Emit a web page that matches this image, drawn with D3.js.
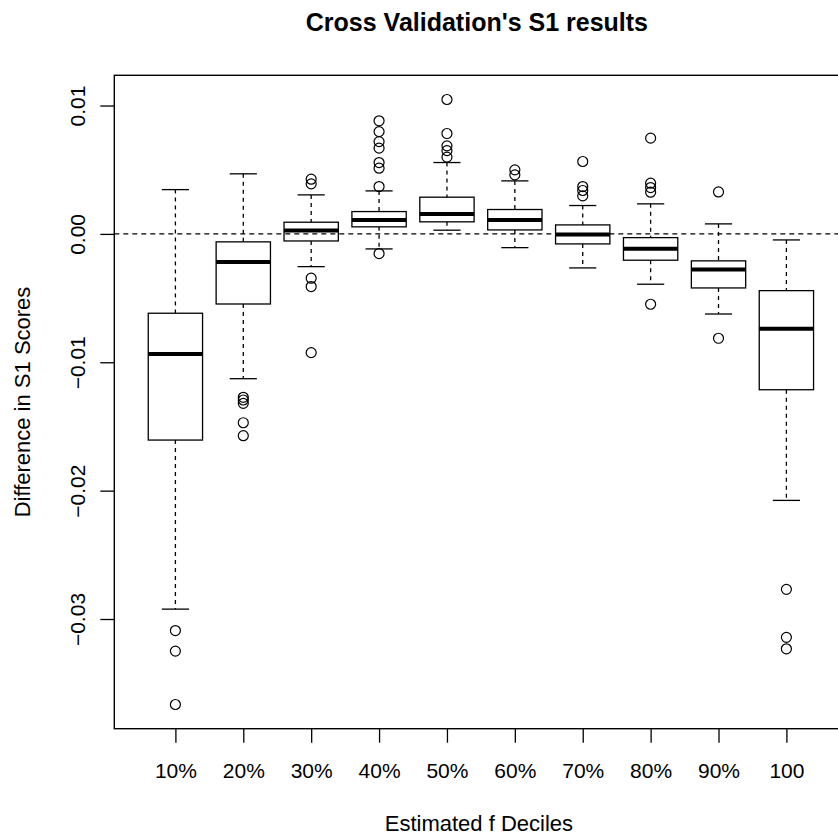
<!DOCTYPE html>
<html>
<head>
<meta charset="utf-8">
<script src="https://cdn.jsdelivr.net/npm/d3@7"></script>
<style>
  html, body { margin: 0; padding: 0; background: #fff; }
  svg text { font-family: 'Liberation Sans', Arial, sans-serif; fill: #000; }
</style>
</head>
<body>
<div id="chart"></div>
<script>
// deciles on the x axis
const categories = ['10%', '20%', '30%', '40%', '50%', '60%', '70%', '80%', '90%', '100']

// box statistics
const whiskerHigh = [0.00345, 0.00468, 0.00304, 0.00335, 0.00556, 0.00413, 0.00221, 0.00234, 0.00078, -0.00047]
const upperQuartile = [-0.00618, -0.00062, 0.00091, 0.00174, 0.00286, 0.0019, 0.0007, -0.00029, -0.0021, -0.00442]
const medians = [-0.00935, -0.00218, 0.00026, 0.00109, 0.00156, 0.00109, -0.00005, -0.00115, -0.00278, -0.00738]
const lowerQuartile = [-0.01606, -0.00546, -0.00055, 0.00055, 0.00094, 0.00031, -0.00078, -0.00205, -0.00421, -0.01214]
const whiskerLow = [-0.02923, -0.01128, -0.00255, -0.00117, 0.00029, -0.00107, -0.00265, -0.00392, -0.00624, -0.02076]
const outliers = [
  [-0.0309, -0.0325, -0.03666],
  [-0.01273, -0.01294, -0.0132, -0.01471, -0.01572],
  [0.00426, 0.0039, -0.00345, -0.0041, -0.00925],
  [0.00881, 0.00797, 0.00719, 0.00668, 0.00556, 0.00512, 0.00369, -0.00153],
  [0.01047, 0.00782, 0.00686, 0.00649, 0.00598],
  [0.00499, 0.0046],
  [0.00564, 0.00369, 0.00338, 0.00296],
  [0.00746, 0.00395, 0.00361, 0.00325, -0.00548],
  [0.00327, -0.00813],
  [-0.02769, -0.03143, -0.03232]
]

// y axis ticks and labels
const yTicks = [-0.03, -0.02, -0.01, 0, 0.01]
const yTickLabels = ['\u22120.03', '\u22120.02', '\u22120.01', '0.00', '0.01']

const width = 838
const height = 837
const plot = { left: 114.3, right: 847.5, top: 75.3, bottom: 728.7 }
const fontSize = 21

const svg = d3.select('#chart').append('svg')
  .attr('width', width)
  .attr('height', height)

// R style: box centres at 1..n, range extended by 4%
const xScale = d3.scaleLinear()
  .domain([0.1, categories.length + 0.9])
  .range([plot.left, plot.right])

const allValues = whiskerHigh.concat(whiskerLow, outliers.flat())
const yMin = d3.min(allValues)
const yMax = d3.max(allValues)
const pad = (yMax - yMin) * 0.04
const yScale = d3.scaleLinear()
  .domain([yMin - pad, yMax + pad])
  .range([plot.bottom, plot.top])

const step = xScale(2) - xScale(1)
const boxW = step * 0.8
const capW = step * 0.4

const boxes = categories.map((c, i) => ({
  i: i + 1,
  lo: whiskerLow[i],
  q1: lowerQuartile[i],
  med: medians[i],
  q3: upperQuartile[i],
  hi: whiskerHigh[i],
  out: outliers[i]
}))

const g = svg.append('g')
const box = g.selectAll('.box')
  .data(boxes)
  .enter()
  .append('g')
  .attr('class', 'box')

// whiskers (dashed)
box.append('line')
  .attr('x1', d => xScale(d.i)).attr('x2', d => xScale(d.i))
  .attr('y1', d => yScale(d.hi)).attr('y2', d => yScale(d.q3))
  .attr('stroke', '#000').attr('stroke-width', 1.3).attr('stroke-dasharray', '4,4')
box.append('line')
  .attr('x1', d => xScale(d.i)).attr('x2', d => xScale(d.i))
  .attr('y1', d => yScale(d.q1)).attr('y2', d => yScale(d.lo))
  .attr('stroke', '#000').attr('stroke-width', 1.3).attr('stroke-dasharray', '4,4')

// staples
box.selectAll('.cap')
  .data(d => [{ i: d.i, v: d.hi }, { i: d.i, v: d.lo }])
  .enter()
  .append('line')
  .attr('class', 'cap')
  .attr('x1', d => xScale(d.i) - capW / 2).attr('x2', d => xScale(d.i) + capW / 2)
  .attr('y1', d => yScale(d.v)).attr('y2', d => yScale(d.v))
  .attr('stroke', '#000').attr('stroke-width', 1.3)

// box body
box.append('rect')
  .attr('x', d => xScale(d.i) - boxW / 2)
  .attr('y', d => yScale(d.q3))
  .attr('width', boxW)
  .attr('height', d => yScale(d.q1) - yScale(d.q3))
  .attr('fill', '#fff')
  .attr('stroke', '#000')
  .attr('stroke-width', 1.3)

// median
box.append('line')
  .attr('x1', d => xScale(d.i) - boxW / 2).attr('x2', d => xScale(d.i) + boxW / 2)
  .attr('y1', d => yScale(d.med)).attr('y2', d => yScale(d.med))
  .attr('stroke', '#000').attr('stroke-width', 4)

// outliers
box.selectAll('.out')
  .data(d => d.out.map(v => ({ i: d.i, v })))
  .enter()
  .append('circle')
  .attr('class', 'out')
  .attr('cx', d => xScale(d.i))
  .attr('cy', d => yScale(d.v))
  .attr('r', 5)
  .attr('fill', 'none')
  .attr('stroke', '#000')
  .attr('stroke-width', 1.2)

// reference line at zero
svg.append('line')
  .attr('x1', plot.left).attr('x2', plot.right)
  .attr('y1', yScale(0)).attr('y2', yScale(0))
  .attr('stroke', '#000').attr('stroke-width', 1.3).attr('stroke-dasharray', '5,4')

// x axis
const xAxis = d3.axisBottom(xScale)
  .tickValues(d3.range(1, categories.length + 1))
  .tickFormat(d => categories[d - 1])
  .tickSize(14)
  .tickSizeOuter(0)
const xg = svg.append('g')
  .attr('transform', `translate(0,${plot.bottom})`)
  .call(xAxis)
xg.select('.domain').remove()
xg.selectAll('line').attr('stroke', '#000').attr('stroke-width', 1.3)
xg.selectAll('text')
  .attr('y', 49)
  .attr('dy', 0)
  .style('font-size', fontSize + 'px')

// y axis
const yAxis = d3.axisLeft(yScale)
  .tickValues(yTicks)
  .tickFormat((d, i) => yTickLabels[i])
  .tickSize(14)
  .tickSizeOuter(0)
const yg = svg.append('g')
  .attr('transform', `translate(${plot.left},0)`)
  .call(yAxis)
yg.select('.domain').remove()
yg.selectAll('line').attr('stroke', '#000').attr('stroke-width', 1.3)
yg.selectAll('text')
  .attr('x', 0)
  .attr('dy', 0)
  .attr('text-anchor', 'middle')
  .attr('transform', 'translate(-29,0) rotate(-90)')
  .style('font-size', fontSize + 'px')

// plot frame
svg.append('rect')
  .attr('x', plot.left)
  .attr('y', plot.top)
  .attr('width', plot.right - plot.left)
  .attr('height', plot.bottom - plot.top)
  .attr('fill', 'none')
  .attr('stroke', '#000')
  .attr('stroke-width', 1.4)

const midX = (plot.left + plot.right) / 2

// title and axis labels
svg.append('text')
  .attr('x', midX - 4)
  .attr('y', 31)
  .attr('text-anchor', 'middle')
  .style('font-size', '25px')
  .style('font-weight', 'bold')
  .text("Cross Validation's S1 results")

svg.append('text')
  .attr('x', midX - 2)
  .attr('y', 831)
  .attr('text-anchor', 'middle')
  .style('font-size', '22px')
  .text('Estimated f Deciles')

svg.append('text')
  .attr('transform', `translate(29.5,${(plot.top + plot.bottom) / 2}) rotate(-90)`)
  .attr('text-anchor', 'middle')
  .style('font-size', '22px')
  .text('Difference in S1 Scores')
</script>
</body>
</html>
